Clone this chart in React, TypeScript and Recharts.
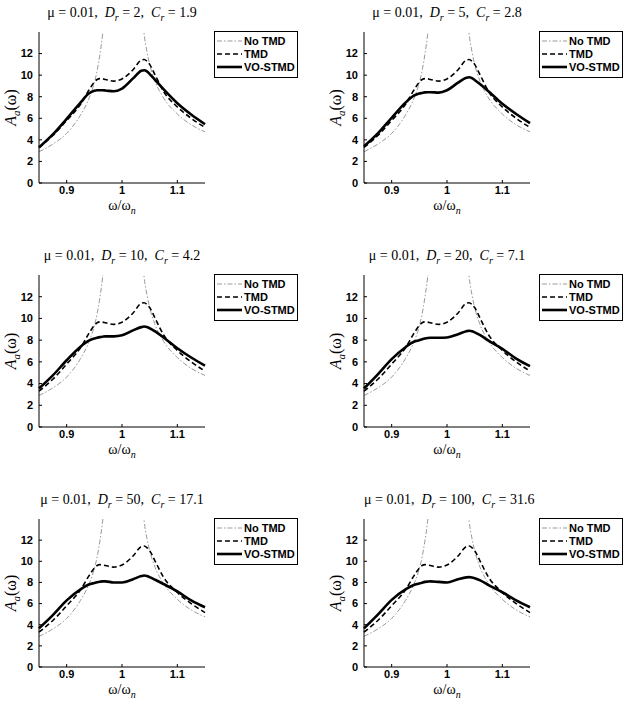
import React from 'react';
import { LineChart, Line, XAxis, YAxis, Legend } from 'recharts';

// frequency ratio w/wn, shared by all six panels
const OMEGA = [0.85, 0.875, 0.9, 0.925, 0.94, 0.95, 0.955, 0.96, 0.965, 0.97, 0.985, 1.0, 1.02, 1.035, 1.04, 1.045, 1.05, 1.06, 1.075, 1.1, 1.125, 1.15];

// uncontrolled response (goes off the top near resonance)
const NO_TMD = [2.9, 3.6, 4.6, 6.3, 7.8, 9.3, 10.4, 11.9, 13.8, 16.5, null, null, null, 16.5, 13.8, 12.2, 11.0, 9.4, 7.9, 6.4, 5.4, 4.75];
const TMD = [3.3, 4.4, 5.8, 7.3, 8.6, 9.35, 9.6, 9.68, 9.66, 9.6, 9.45, 9.65, 10.5, 11.4, 11.45, 11.3, 11.0, 10.0, 8.5, 7.05, 6.0, 5.15];

const VO_D2 = [3.3, 4.5, 5.95, 7.45, 8.3, 8.55, 8.6, 8.6, 8.6, 8.58, 8.5, 8.75, 9.7, 10.4, 10.45, 10.35, 10.1, 9.55, 8.7, 7.4, 6.35, 5.45];
const VO_D5 = [3.4, 4.6, 6.05, 7.45, 8.1, 8.3, 8.35, 8.4, 8.42, 8.42, 8.38, 8.6, 9.3, 9.75, 9.8, 9.72, 9.55, 9.15, 8.5, 7.35, 6.4, 5.55];
const VO_D10 = [3.55, 4.75, 6.15, 7.4, 7.95, 8.15, 8.22, 8.28, 8.32, 8.35, 8.35, 8.45, 8.9, 9.2, 9.25, 9.2, 9.1, 8.8, 8.25, 7.25, 6.4, 5.65];
const VO_D20 = [3.55, 4.85, 6.25, 7.35, 7.85, 8.0, 8.08, 8.15, 8.2, 8.22, 8.22, 8.25, 8.55, 8.82, 8.86, 8.82, 8.72, 8.46, 7.95, 7.2, 6.3, 5.6];
const VO_D50 = [3.65, 4.9, 6.3, 7.35, 7.8, 7.95, 8.02, 8.07, 8.1, 8.1, 8.0, 8.0, 8.3, 8.6, 8.65, 8.6, 8.5, 8.25, 7.85, 7.15, 6.3, 5.65];
const VO_D100 = [3.65, 4.95, 6.35, 7.35, 7.75, 7.9, 7.98, 8.05, 8.08, 8.1, 8.05, 8.0, 8.3, 8.48, 8.5, 8.47, 8.4, 8.2, 7.75, 7.07, 6.3, 5.65];

const DR_VALUES = ['2', '5', '10', '20', '50', '100'];
const CR_VALUES = ['1.9', '2.8', '4.2', '7.1', '17.1', '31.6'];
const VO_SERIES = [VO_D2, VO_D5, VO_D10, VO_D20, VO_D50, VO_D100];

const X_TICKS = [0.9, 1, 1.1];
const Y_TICKS = [0, 2, 4, 6, 8, 10, 12];

const SANS = '"Liberation Sans", Arial, sans-serif';
const SERIF = '"Liberation Serif", "Times New Roman", serif';

const ROW_TOP = [32, 275, 519];
const ROW_H = [151, 152, 148];
const COL_LEFT = [39, 364];

const LEGEND_ITEMS = [
  { name: 'No TMD', color: '#9a9a9a', width: 1, dash: '5 2 1.5 2' },
  { name: 'TMD', color: '#000', width: 1.6, dash: '5 3' },
  { name: 'VO-STMD', color: '#000', width: 2.6, dash: undefined },
];

const LegendBox = () => (
  <div style={{ border: '1px solid #000', background: '#fff', width: 84, boxSizing: 'border-box', padding: '2px 0 4px 2px', fontFamily: SANS, fontWeight: 'bold', fontSize: 11, color: '#000' }}>
    {LEGEND_ITEMS.map((it) => (
      <div key={it.name} style={{ display: 'flex', alignItems: 'center', height: 13, whiteSpace: 'nowrap' }}>
        <svg width={25} height={8} style={{ display: 'block' }}>
          <line x1={0} y1={4} x2={25} y2={4} stroke={it.color} strokeWidth={it.width} strokeDasharray={it.dash} />
        </svg>
        <span style={{ marginLeft: 2 }}>{it.name}</span>
      </div>
    ))}
  </div>
);

const YLabel = (props: any) => {
  const vb = props.viewBox || { x: 0, y: 32, width: 39, height: 151 };
  const cx = vb.x + 16;
  const cy = vb.y + vb.height / 2;
  return (
    <text x={cx} y={cy} transform={`rotate(-90, ${cx}, ${cy})`} textAnchor="middle" fontFamily={SERIF} fontSize={16} fill="#000">
      <tspan fontStyle="italic">A</tspan>
      <tspan fontStyle="italic" fontSize={11} dy={4}>a</tspan>
      <tspan dy={-4}>(ω)</tspan>
    </text>
  );
};

const XLabel = (props: any) => {
  const vb = props.viewBox || { x: 39, y: 183, width: 166, height: 35 };
  const cx = vb.x + vb.width / 2;
  return (
    <text x={cx} y={vb.y + 27} textAnchor="middle" fontFamily={SERIF} fontSize={14} fill="#000">
      <tspan>ω/ω</tspan>
      <tspan fontStyle="italic" fontSize={10} dy={4}>n</tspan>
    </text>
  );
};

const Panel = ({ idx }: { idx: number }) => {
  const row = Math.floor(idx / 2);
  const col = idx % 2;
  const plotH = ROW_H[row];
  const chartH = 32 + plotH + 36;
  const vo = VO_SERIES[idx];
  const data = OMEGA.map((w, i) => ({ w, noTmd: NO_TMD[i], tmd: TMD[i], vo: vo[i] }));
  return (
    <div style={{ position: 'absolute', left: COL_LEFT[col] - 39, top: ROW_TOP[row] - 32, width: 300, height: chartH }}>
      <div style={{ position: 'absolute', left: 39, top: 4, width: 166, textAlign: 'center', fontFamily: SERIF, fontSize: 14, lineHeight: '18px', whiteSpace: 'nowrap', color: '#000' }}>
        μ = 0.01,&nbsp; <i>D</i><sub style={{ fontSize: 10, lineHeight: 0 }}><i>r</i></sub> = {DR_VALUES[idx]},&nbsp; <i>C</i><sub style={{ fontSize: 10, lineHeight: 0 }}><i>r</i></sub> = {CR_VALUES[idx]}
      </div>
      <LineChart width={300} height={chartH} data={data} margin={{ top: 32, right: 95, bottom: 0, left: 0 }}>
        <XAxis
          dataKey="w"
          type="number"
          domain={[0.85, 1.15]}
          ticks={X_TICKS}
          height={36}
          stroke="#000"
          tickSize={-3}
          tickMargin={6}
          tick={{ fill: '#000', fontSize: 11, fontWeight: 'bold', fontFamily: SANS }}
          label={<XLabel />}
        />
        <YAxis
          type="number"
          domain={[0, 14]}
          ticks={Y_TICKS}
          allowDataOverflow
          width={39}
          stroke="#000"
          tickSize={-3}
          tickMargin={9}
          tick={{ fill: '#000', fontSize: 11, fontWeight: 'bold', fontFamily: SANS }}
          label={<YLabel />}
        />
        <Legend
          layout="vertical"
          align="center"
          verticalAlign="middle"
          content={() => <LegendBox />}
          wrapperStyle={{ left: 214, top: 31, width: 84 }}
        />
        <Line type="monotone" dataKey="noTmd" stroke="#9a9a9a" strokeWidth={1} strokeDasharray="5 2 1.5 2" dot={false} isAnimationActive={false} />
        <Line type="monotone" dataKey="tmd" stroke="#000" strokeWidth={1.6} strokeDasharray="5 3" dot={false} isAnimationActive={false} />
        <Line type="monotone" dataKey="vo" stroke="#000" strokeWidth={2.6} dot={false} isAnimationActive={false} />
      </LineChart>
    </div>
  );
};

export default function App() {
  return (
    <div style={{ position: 'absolute', left: 0, top: 0, width: 630, height: 705, background: '#fff', overflow: 'hidden' }}>
      {VO_SERIES.map((_, i) => (
        <Panel key={i} idx={i} />
      ))}
    </div>
  );
}
